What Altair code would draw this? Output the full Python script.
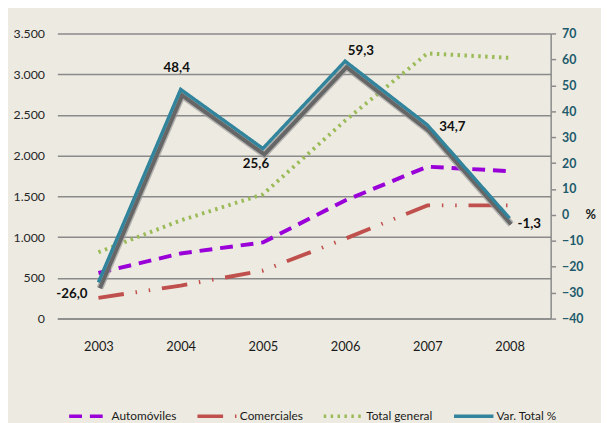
import altair as alt
import pandas as pd

years = ["2003", "2004", "2005", "2006", "2007", "2008"]
automoviles = [560, 800, 935, 1450, 1865, 1810]
comerciales = [255, 405, 590, 980, 1390, 1390]
total_general = [815, 1205, 1525, 2430, 3255, 3200]
var_total = [-26.0, 48.4, 25.6, 59.3, 34.7, -1.3]
series = ["Automóviles", "Comerciales", "Total general", "Var. Total %"]
left_ticks = [0, 500, 1000, 1500, 2000, 2500, 3000, 3500]
right_ticks = [-40, -30, -20, -10, 0, 10, 20, 30, 40, 50, 60, 70]

colors = ["#9A00D8", "#C0504D", "#9BBB59", "#31849B"]
dashes = [[13, 8], [26, 12, 1.5, 12, 1.5, 12], [2.5, 4.5], [1, 0]]

FONT = "Lato, sans-serif"

rows = []
for name, vals in zip(series[:3], [automoviles, comerciales, total_general]):
    for y, v in zip(years, vals):
        rows.append({"year": y, "serie": name, "value": v})
df_left = pd.DataFrame(rows)

df_var = pd.DataFrame({
    "year": years,
    "pct": var_total,
    "serie": series[3],
    "label": [f"{v:.1f}".replace(".", ",") for v in var_total],
})

x_enc = alt.X("year:O", scale=alt.Scale(type="point", padding=0.5),
              axis=alt.Axis(title=None, labelAngle=0, ticks=False, domain=True,
                            domainColor="#8a8a8a", domainWidth=1.5,
                            labelPadding=22, labelFontSize=13, labelColor="#1a1a1a"))

legend = alt.Legend(orient="none", legendX=10, legendY=366, direction="horizontal",
                    title=None, symbolType="stroke", symbolSize=1600, symbolStrokeWidth=3.5,
                    labelFontSize=12, labelColor="#1a1a1a", labelFont=FONT,
                    columnPadding=14, labelOffset=1)
color_enc = alt.Color("serie:N", scale=alt.Scale(domain=series, range=colors), legend=legend)
dash_enc = alt.StrokeDash("serie:N", scale=alt.Scale(domain=series, range=dashes), legend=legend)

y_left = alt.Y("value:Q", scale=alt.Scale(domain=[0, 3500], nice=False),
               axis=alt.Axis(values=left_ticks, title=None, grid=True, gridColor="#8a8a8a",
                             gridWidth=1.5, domain=False, ticks=False, labelPadding=13,
                             labelFontSize=12.5, labelColor="#262626",
                             labelExpr="replace(format(datum.value, ','), ',', '.')"))

left = alt.Chart(df_left).mark_line(strokeWidth=4).encode(
    x=x_enc, y=y_left, color=color_enc, strokeDash=dash_enc,
    order=alt.Order("year:O"))

y_right = alt.Y("pct:Q", scale=alt.Scale(domain=[-40, 70], nice=False),
                axis=alt.Axis(orient="right", values=right_ticks, grid=False, domain=True,
                              domainColor="#8a8a8a", domainWidth=1.5, ticks=True, tickSize=5,
                              tickColor="#8a8a8a", tickWidth=1.5, labelPadding=6,
                              labelFontSize=12.5, labelFontWeight="bold", labelColor="#215A6B",
                              title="%", titleAngle=0, titleX=40, titleY=184,
                              titleAlign="center", titleBaseline="middle",
                              titleFontSize=13, titleFontWeight="bold", titleColor="#1a1a1a",
                              titleFont=FONT))

base_r = alt.Chart(df_var)
shadow_outer = base_r.mark_line(color="#9a9a9a", strokeWidth=7, xOffset=1.5, yOffset=6,
                                opacity=0.7).encode(x=x_enc, y=y_right)
shadow_inner = base_r.mark_line(color="#666666", strokeWidth=4, xOffset=1.5, yOffset=6).encode(
    x=x_enc, y=y_right)
teal = base_r.mark_line(strokeWidth=3.5).encode(
    x=x_enc, y=y_right, color=color_enc, strokeDash=dash_enc)

label_style = {
    "2003": dict(align="right", baseline="middle", dx=-11, dy=12),
    "2004": dict(align="center", baseline="middle", dx=-4, dy=-22),
    "2005": dict(align="center", baseline="middle", dx=-7, dy=16),
    "2006": dict(align="center", baseline="middle", dx=16, dy=-10),
    "2007": dict(align="left", baseline="middle", dx=12, dy=2),
    "2008": dict(align="left", baseline="middle", dx=8, dy=6),
}
labels = [
    base_r.transform_filter(alt.datum.year == yr).mark_text(
        fontWeight="bold", fontSize=13.5, color="#111111", font=FONT, **st
    ).encode(x=x_enc, y=y_right, text="label:N")
    for yr, st in label_style.items()
]

right = alt.layer(shadow_outer, shadow_inner, teal, *labels)

chart = alt.layer(left, right).resolve_scale(y="independent").properties(
    width=500, height=289,
    padding={"left": 50, "top": 23, "right": 51, "bottom": 103},
    autosize=alt.AutoSizeParams(type="none"),
    background="#EDEBE1",
).configure_view(stroke=None).configure_axis(labelFont=FONT, titleFont=FONT)

chart.save("out.html", embed_options={"renderer": "svg", "actions": False})
